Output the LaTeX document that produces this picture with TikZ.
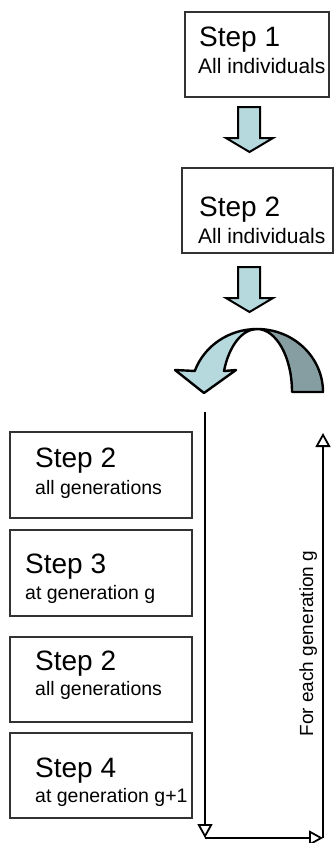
\documentclass[tikz,border=0pt]{standalone}
\usepackage{fontspec}
\setmainfont{Liberation Sans}
\usetikzlibrary{arrows.meta}

\definecolor{ribbonblue}{RGB}{182,217,221}
\definecolor{ribbongrey}{RGB}{134,158,162}
\definecolor{boxline}{RGB}{50,50,50}

\newcommand{\bigstep}{\fontsize{28}{30}\selectfont}
\newcommand{\topnote}{\fontsize{21}{23}\selectfont}
\newcommand{\lownote}{\fontsize{19.5}{21}\selectfont}

\begin{document}
\begin{tikzpicture}[x=1pt,y=-1pt,
    stepbox/.style={draw=boxline,line width=1.6pt,inner sep=0pt},
    steptext/.style={anchor=base west,inner sep=0pt},
    blockarrow/.style={draw=black,line width=2pt,fill=ribbonblue,line join=miter},
    loopline/.style={draw=black,line width=2.4pt,-{Triangle[open,length=14pt,width=15pt,line width=1.8pt]}}]
    \useasboundingbox (0,0) rectangle (335,843);

    % Schritte oben
    \node[stepbox,minimum width=144pt,minimum height=85pt] (box1) at (257,54.5) {};
    \node[steptext] (box1a) at (199,47) {\bigstep Step 1};
    \node[steptext] (box1b) at (198,74) {\topnote All individuals};

    \node[stepbox,minimum width=151pt,minimum height=85pt] (box2) at (257.5,210.5) {};
    \node[steptext] (box2a) at (199,216) {\bigstep Step 2};
    \node[steptext] (box2b) at (198,243) {\topnote All individuals};

    % Blockpfeile
    \foreach \ty in {107,267}
        \draw[blockarrow] (238,\ty) -- (260,\ty) -- (260,\ty+31) -- (273,\ty+31)
            -- (249.5,\ty+45) -- (226,\ty+31) -- (238,\ty+31) -- cycle;

    % Gebogener Pfeil
    \draw[draw=black,line width=2.4pt,fill=ribbongrey,line join=round] (257,329)
        arc[start angle=90,end angle=0,x radius=66pt,y radius=63pt] -- (292,392)
        arc[start angle=0,end angle=90,x radius=35pt,y radius=63pt] -- cycle;
    \draw[draw=black,line width=2.4pt,fill=ribbonblue,line join=round] (257,329)
        arc[start angle=90,end angle=160.5,x radius=66pt,y radius=63pt]
        -- (175,370) -- (204,393) -- (236,370) -- (224,371)
        arc[start angle=160.5,end angle=90,x radius=35pt,y radius=63pt] -- cycle;

    % Schritte unten
    \node[stepbox,minimum width=182pt,minimum height=86pt] (boxA) at (101,475) {};
    \node[steptext] (boxAa) at (35,467) {\bigstep Step 2};
    \node[steptext] (boxAb) at (35,494) {\lownote all generations};

    \node[stepbox,minimum width=182pt,minimum height=86pt] (boxB) at (101,573) {};
    \node[steptext] (boxBa) at (25,573) {\bigstep Step 3};
    \node[steptext] (boxBb) at (25,599) {\lownote at generation g};

    \node[stepbox,minimum width=182pt,minimum height=85pt] (boxC) at (101,679.5) {};
    \node[steptext] (boxCa) at (35,670) {\bigstep Step 2};
    \node[steptext] (boxCb) at (35,695) {\lownote all generations};

    \node[stepbox,minimum width=182pt,minimum height=85pt] (boxD) at (101,775.5) {};
    \node[steptext] (boxDa) at (35,777) {\bigstep Step 4};
    \node[steptext] (boxDb) at (35,802) {\lownote at generation g+1};

    % Schleife
    \coordinate (loopTop) at (205,412);
    \coordinate (loopBL) at (205,838);
    \coordinate (loopBR) at (323,838);
    \coordinate (loopTR) at (323,433);
    \draw[loopline] (loopTop) -- (loopBL);
    \draw[loopline] (loopBL) -- (loopBR);
    \draw[loopline] (loopBR) -- (loopTR);

    \node[rotate=90,anchor=base,inner sep=0pt] (loopText) at (313,643.5)
        {\fontsize{19}{21}\selectfont For each generation g};

\end{tikzpicture}
\end{document}
